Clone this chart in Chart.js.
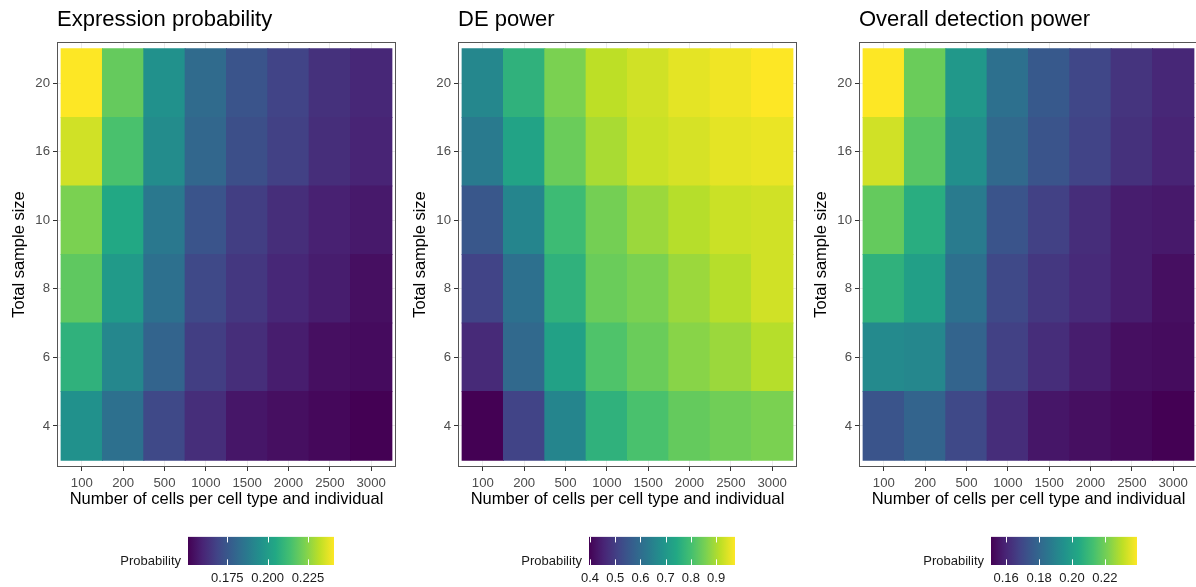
<!DOCTYPE html>
<html lang="en">
<head>
<meta charset="UTF-8">
<title>Expression probability / DE power / Overall detection power</title>
<script src="https://cdn.jsdelivr.net/npm/chart.js"></script>
<style>
  body { margin: 0; background: #fff; width: 1196px; height: 587px; overflow: hidden; position: relative; }
  canvas { position: absolute; }
</style>
</head>
<body>
<canvas id="heat1" width="400" height="520" style="left:0px;top:0px"></canvas>
<canvas id="heat2" width="400" height="520" style="left:401px;top:0px"></canvas>
<canvas id="heat3" width="400" height="520" style="left:802px;top:0px"></canvas>
<canvas id="bar1" width="266" height="65" style="left:88px;top:522px"></canvas>
<canvas id="bar2" width="266" height="65" style="left:489px;top:522px"></canvas>
<canvas id="bar3" width="266" height="65" style="left:891px;top:522px"></canvas>

<script>
// categories
const cellCounts = ['100', '200', '500', '1000', '1500', '2000', '2500', '3000'];
const sampleSizes = ['4', '6', '8', '10', '16', '20'];

// values, one row per sample size (4 ... 20), one entry per cell count
const exprProb = [
  [0.1959, 0.1841, 0.1705, 0.1624, 0.1560, 0.1542, 0.1524, 0.1506],
  [0.2086, 0.1923, 0.1796, 0.1669, 0.1624, 0.1578, 0.1542, 0.1533],
  [0.2186, 0.1995, 0.1841, 0.1705, 0.1651, 0.1606, 0.1578, 0.1542],
  [0.2231, 0.2050, 0.1868, 0.1742, 0.1669, 0.1624, 0.1588, 0.1569],
  [0.2349, 0.2149, 0.1941, 0.1805, 0.1723, 0.1678, 0.1624, 0.1597],
  [0.2412, 0.2195, 0.1959, 0.1823, 0.1742, 0.1687, 0.1633, 0.1606]
];
const dePower = [
  [0.396, 0.512, 0.657, 0.767, 0.807, 0.836, 0.848, 0.859],
  [0.465, 0.593, 0.726, 0.813, 0.842, 0.871, 0.888, 0.911],
  [0.512, 0.610, 0.767, 0.842, 0.859, 0.888, 0.911, 0.934],
  [0.552, 0.657, 0.790, 0.853, 0.888, 0.911, 0.929, 0.934],
  [0.633, 0.732, 0.842, 0.900, 0.929, 0.940, 0.952, 0.958],
  [0.662, 0.767, 0.859, 0.917, 0.934, 0.952, 0.963, 0.975]
];
const overallPower = [
  [0.1739, 0.1792, 0.1703, 0.1623, 0.1561, 0.1543, 0.1526, 0.1508],
  [0.1925, 0.1916, 0.1792, 0.1677, 0.1623, 0.1579, 0.1543, 0.1535],
  [0.2076, 0.2005, 0.1836, 0.1703, 0.1650, 0.1614, 0.1579, 0.1543],
  [0.2182, 0.2058, 0.1872, 0.1739, 0.1677, 0.1623, 0.1579, 0.1570],
  [0.2333, 0.2164, 0.1943, 0.1810, 0.1739, 0.1685, 0.1632, 0.1597],
  [0.2395, 0.2191, 0.1978, 0.1836, 0.1756, 0.1694, 0.1641, 0.1606]
];

// colour bar ticks
const exprTicks = [0.175, 0.200, 0.225];
const deTicks = [0.4, 0.5, 0.6, 0.7, 0.8, 0.9];
const overallTicks = [0.16, 0.18, 0.20, 0.22];

const FONT = "'Liberation Sans', Arial, Helvetica, sans-serif";

// viridis colour map
const VIRIDIS = [
  [68, 1, 84], [72, 36, 117], [65, 68, 135], [53, 95, 141], [42, 120, 142], [33, 145, 140],
  [34, 168, 132], [68, 191, 112], [122, 209, 81], [189, 223, 38], [253, 231, 37]
];
function viridis(t) {
  t = Math.max(0, Math.min(1, t));
  const p = t * (VIRIDIS.length - 1);
  const i = Math.min(Math.floor(p), VIRIDIS.length - 2);
  const f = p - i;
  const a = VIRIDIS[i], b = VIRIDIS[i + 1];
  const c = a.map((v, k) => Math.round(v + (b[k] - v) * f));
  return `rgb(${c[0]},${c[1]},${c[2]})`;
}

// panel border (theme_bw)
const framePlugin = {
  id: 'frame',
  afterDatasetsDraw(chart) {
    const { ctx, chartArea: a } = chart;
    ctx.save();
    ctx.strokeStyle = '#555';
    ctx.lineWidth = 1;
    ctx.strokeRect(Math.round(a.left) + 0.5, Math.round(a.top) + 0.5,
      Math.round(a.right - a.left) - 1, Math.round(a.bottom - a.top) - 1);
    ctx.restore();
  }
};

// white tick marks inside the colour bar
const barTicksPlugin = {
  id: 'barTicks',
  afterDatasetsDraw(chart) {
    const { ctx, chartArea: a } = chart;
    const xs = chart.scales.x;
    const len = (a.bottom - a.top) / 5;
    ctx.save();
    ctx.strokeStyle = '#fff';
    ctx.lineWidth = 1;
    xs.ticks.forEach(t => {
      const px = Math.round(xs.getPixelForValue(t.value)) + 0.5;
      ctx.beginPath();
      ctx.moveTo(px, a.top); ctx.lineTo(px, a.top + len);
      ctx.moveTo(px, a.bottom - len); ctx.lineTo(px, a.bottom);
      ctx.stroke();
    });
    ctx.restore();
  }
};

function makeHeat(id, title, values) {
  const flat = values.flat();
  const lo = Math.min(...flat), hi = Math.max(...flat);
  const datasets = values.map((row, r) => ({
    data: cellCounts.map((c, ci) => ({ x: ci + 0.5, y: [r, r + 1] })),
    backgroundColor: row.map(v => viridis((v - lo) / (hi - lo))),
    borderWidth: 0,
    grouped: false,
    barPercentage: 1,
    categoryPercentage: 1,
    inflateAmount: 0.5
  }));

  new Chart(document.getElementById(id), {
    type: 'bar',
    data: { datasets },
    options: {
      responsive: false,
      animation: false,
      layout: { padding: { left: 0, right: 4, top: 0, bottom: 0 } },
      plugins: {
        legend: { display: false },
        tooltip: { enabled: false },
        title: {
          display: true,
          text: title,
          align: 'start',
          fullSize: false,
          color: '#000',
          font: { family: FONT, size: 22, weight: 'normal' },
          padding: { top: 7, bottom: 8.6 }
        }
      },
      scales: {
        x: {
          type: 'linear',
          min: -0.1,
          max: 8.1,
          offset: false,
          afterBuildTicks: s => { s.ticks = cellCounts.map((c, i) => ({ value: i + 0.5 })); },
          afterFit: s => { s.height = 53; },
          grid: { offset: false, color: '#ebebeb', tickColor: '#333', tickLength: 4, tickWidth: 1 },
          border: { display: false },
          ticks: {
            autoSkip: false, maxRotation: 0, padding: 4,
            color: '#4d4d4d', font: { family: FONT, size: 13.2 },
            callback: (v, i) => cellCounts[i]
          },
          title: {
            display: true, text: 'Number of cells per cell type and individual',
            color: '#000', font: { family: FONT, size: 16.5 }, padding: { top: 0, bottom: 11 }
          }
        },
        y: {
          type: 'linear',
          min: -0.1,
          max: 6.1,
          afterBuildTicks: s => { s.ticks = sampleSizes.map((c, i) => ({ value: i + 0.5 })); },
          afterFit: s => { s.width = 57; },
          grid: { color: '#ebebeb', tickColor: '#333', tickLength: 4, tickWidth: 1 },
          border: { display: false },
          ticks: {
            autoSkip: false, padding: 3,
            color: '#4d4d4d', font: { family: FONT, size: 13.2 },
            callback: (v, i) => sampleSizes[i]
          },
          title: {
            display: true, text: 'Total sample size',
            color: '#000', font: { family: FONT, size: 16.5 }, padding: { top: 10, bottom: 0 }
          }
        }
      }
    },
    plugins: [framePlugin]
  });
  return [lo, hi];
}

function makeBar(id, range, ticks, decimals) {
  const [lo, hi] = range;
  new Chart(document.getElementById(id), {
    type: 'bar',
    data: {
      labels: ['Probability'],
      datasets: [{
        data: [[lo, hi]],
        borderWidth: 0,
        barPercentage: 1,
        categoryPercentage: 1,
        backgroundColor: ctx => {
          const chart = ctx.chart;
          if (!chart.chartArea) return viridis(0.5);
          const xs = chart.scales.x;
          const g = chart.ctx.createLinearGradient(xs.getPixelForValue(lo), 0, xs.getPixelForValue(hi), 0);
          for (let k = 0; k <= 20; k++) g.addColorStop(k / 20, viridis(k / 20));
          return g;
        }
      }]
    },
    options: {
      indexAxis: 'y',
      responsive: false,
      animation: false,
      layout: { padding: { left: 0, right: 20, top: 14, bottom: 0 } },
      plugins: { legend: { display: false }, tooltip: { enabled: false } },
      scales: {
        x: {
          type: 'linear',
          min: lo,
          max: hi,
          afterBuildTicks: s => { s.ticks = ticks.map(v => ({ value: v })); },
          afterFit: s => { s.height = 22; },
          grid: { display: false, drawTicks: false },
          border: { display: false },
          ticks: {
            autoSkip: false, maxRotation: 0, padding: 6,
            color: '#1a1a1a', font: { family: FONT, size: 13 },
            callback: v => Number(v).toFixed(decimals)
          }
        },
        y: {
          afterFit: s => { s.width = 100; },
          grid: { display: false, drawTicks: false },
          border: { display: false },
          ticks: { padding: 7, labelOffset: 11, color: '#1a1a1a', font: { family: FONT, size: 13 } }
        }
      }
    },
    plugins: [barTicksPlugin]
  });
}

const r1 = makeHeat('heat1', 'Expression probability', exprProb);
const r2 = makeHeat('heat2', 'DE power', dePower);
const r3 = makeHeat('heat3', 'Overall detection power', overallPower);
makeBar('bar1', r1, exprTicks, 3);
makeBar('bar2', r2, deTicks, 1);
makeBar('bar3', r3, overallTicks, 2);
</script>
</body>
</html>
